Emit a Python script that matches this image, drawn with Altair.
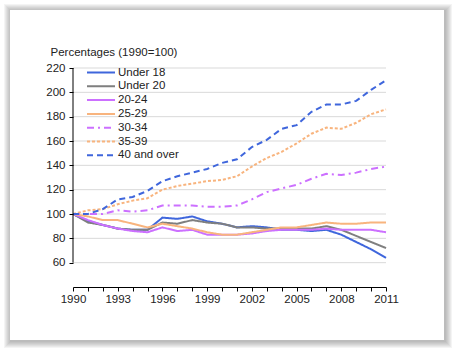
import altair as alt
import pandas as pd

years = list(range(1990, 2012))
series_names = ["Under 18", "Under 20", "20-24", "25-29", "30-34", "35-39", "40 and over"]
under18 = [100, 94, 91, 88, 87, 87, 97, 96, 98, 94, 92, 89, 90, 89, 87, 87, 86, 87, 83, 77, 71, 64]
under20 = [100, 93, 91, 88, 87, 87, 93, 92, 95, 93, 92, 89, 89, 88, 88, 88, 88, 90, 87, 82, 77, 72]
a20_24 = [100, 95, 91, 88, 86, 85, 89, 86, 87, 83, 83, 83, 84, 86, 87, 87, 87, 88, 87, 87, 87, 85]
a25_29 = [100, 98, 95, 95, 92, 89, 92, 90, 88, 85, 83, 83, 85, 87, 89, 89, 91, 93, 92, 92, 93, 93]
a30_34 = [100, 100, 100, 103, 102, 103, 107, 107, 107, 106, 106, 107, 112, 118, 121, 124, 129, 133, 132, 134, 137, 139]
a35_39 = [100, 103, 104, 108, 111, 113, 120, 123, 125, 127, 128, 131, 139, 146, 151, 158, 166, 171, 170, 175, 182, 186]
a40_over = [100, 100, 104, 112, 114, 119, 127, 131, 134, 137, 142, 145, 155, 161, 170, 173, 184, 190, 190, 193, 202, 210]
y_ticks = [60, 80, 100, 120, 140, 160, 180, 200, 220]

colors = ["#3f66dc", "#7f7f7f", "#cc70ff", "#f8b47e", "#cc70ff", "#f8b47e", "#3f66dc"]
dashes = [[1, 0], [1, 0], [1, 0], [1, 0], [7, 4, 2, 4], [3, 2], [6, 4]]

all_vals = [under18, under20, a20_24, a25_29, a30_34, a35_39, a40_over]
rows = []
for name, vals in zip(series_names, all_vals):
    for yr, v in zip(years, vals):
        rows.append({"series": name, "year": yr, "value": v})
df = pd.DataFrame(rows)
grid_df = pd.DataFrame({"tick": y_ticks})

FONT = "Liberation Sans"

# frame with soft shadow
frame_data = alt.Data(values=[{"k": 0}])
L, T, R, B = -63, -58, 371, 272
shadow_layers = []
for k in range(7, 0, -1):
    shadow_layers.append(
        alt.Chart(frame_data).mark_rect(fill="#404040", opacity=0.06).encode(
            x=alt.value(L - k + 1), x2=alt.value(R + k + 1),
            y=alt.value(T - k + 1), y2=alt.value(B + k + 1)
        )
    )
frame = alt.Chart(frame_data).mark_rect(fill="white").encode(
    x=alt.value(L), x2=alt.value(R), y=alt.value(T), y2=alt.value(B)
)

x_scale = alt.Scale(domain=[1990, 2011], nice=False, zero=False)
y_scale = alt.Scale(domain=[40, 220], nice=False, zero=False)

y_axis = alt.Axis(values=y_ticks, grid=False, domain=False, zindex=1,
                  labelOverlap=False,
                  tickColor="#000", tickSize=4, labelPadding=4,
                  title="Percentages (1990=100)", titleAngle=0, titleX=-23, titleY=-13,
                  titleAlign="left", titleBaseline="alphabetic",
                  titleFont=FONT, titleFontSize=11.5, titleFontWeight="normal",
                  titleColor="#222")

grid = alt.Chart(grid_df).mark_rule(color="#d9d9d9", strokeWidth=1).encode(
    y=alt.Y("tick:Q", scale=y_scale, axis=y_axis), x=alt.value(0), x2=alt.value(313)
)

lines = alt.Chart(df).mark_line(strokeWidth=2, clip=False).encode(
    x=alt.X("year:Q", scale=x_scale,
            axis=alt.Axis(values=years, format="d", grid=False, zindex=1,
                          labelExpr="(datum.value - 1990) % 3 == 0 ? datum.label : ''",
                          labelOverlap=False,
                          title=None, domainColor="#000", tickColor="#000",
                          tickSize=4, labelPadding=2, labelFlush=False)),
    y=alt.Y("value:Q", scale=y_scale, axis=y_axis),
    color=alt.Color("series:N", scale=alt.Scale(domain=series_names, range=colors),
                    sort=series_names, title=None),
    strokeDash=alt.StrokeDash("series:N", scale=alt.Scale(domain=series_names, range=dashes),
                              sort=series_names, title=None),
    order=alt.Order("year:Q"),
)

yaxis_rule = alt.Chart(frame_data).mark_rule(color="#000", strokeWidth=1).encode(
    x=alt.value(0), y=alt.datum(60, scale=y_scale, axis=y_axis), y2=alt.datum(220)
)

chart = alt.layer(*shadow_layers, frame, grid, lines, yaxis_rule).properties(
    width=313, height=219, autosize="none",
    padding={"left": 73, "top": 68, "right": 68, "bottom": 63},
    background="white",
).configure_view(stroke=None).configure_axis(
    labelFont=FONT, labelFontSize=11.5, labelColor="#222"
).configure_legend(
    orient="none", legendX=13, legendY=-1, padding=0,
    symbolType="stroke", symbolSize=784, symbolStrokeWidth=2,
    clipHeight=11, rowPadding=1.8, labelOffset=2,
    labelFont=FONT, labelFontSize=11.5, labelColor="#222"
)

chart.save("out.html", embed_options={"renderer": "svg", "actions": False})
